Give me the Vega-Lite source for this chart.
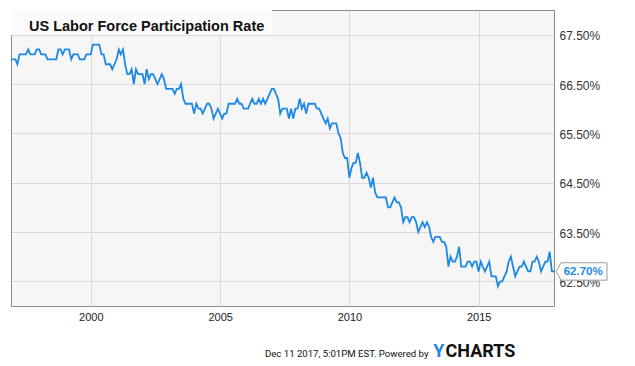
{
  "$schema": "https://vega.github.io/schema/vega-lite/v6.json",
  "width": 543,
  "height": 296,
  "autosize": {"type": "none"},
  "padding": {"left": 11, "top": 10, "right": 81, "bottom": 60},
  "background": "white",
  "title": {
    "text": "US Labor Force Participation Rate",
    "anchor": "start",
    "frame": "group",
    "orient": "top",
    "offset": -35,
    "dx": 18,
    "baseline": "alphabetic",
    "font": "Liberation Sans",
    "fontSize": 14.5,
    "fontWeight": "bold",
    "color": "#111111"
  },
  "data": {
    "values": [
      {"d": "1996-11-30", "v": 0.670}, {"d": "1996-12-31", "v": 0.670},
      {"d": "1997-01-31", "v": 0.670}, {"d": "1997-02-28", "v": 0.669}, {"d": "1997-03-31", "v": 0.671}, {"d": "1997-04-30", "v": 0.671}, {"d": "1997-05-31", "v": 0.671}, {"d": "1997-06-30", "v": 0.671}, {"d": "1997-07-31", "v": 0.672}, {"d": "1997-08-31", "v": 0.671}, {"d": "1997-09-30", "v": 0.671}, {"d": "1997-10-31", "v": 0.671}, {"d": "1997-11-30", "v": 0.672}, {"d": "1997-12-31", "v": 0.672},
      {"d": "1998-01-31", "v": 0.671}, {"d": "1998-02-28", "v": 0.671}, {"d": "1998-03-31", "v": 0.671}, {"d": "1998-04-30", "v": 0.670}, {"d": "1998-05-31", "v": 0.670}, {"d": "1998-06-30", "v": 0.670}, {"d": "1998-07-31", "v": 0.670}, {"d": "1998-08-31", "v": 0.670}, {"d": "1998-09-30", "v": 0.672}, {"d": "1998-10-31", "v": 0.672}, {"d": "1998-11-30", "v": 0.671}, {"d": "1998-12-31", "v": 0.672},
      {"d": "1999-01-31", "v": 0.672}, {"d": "1999-02-28", "v": 0.672}, {"d": "1999-03-31", "v": 0.670}, {"d": "1999-04-30", "v": 0.671}, {"d": "1999-05-31", "v": 0.671}, {"d": "1999-06-30", "v": 0.671}, {"d": "1999-07-31", "v": 0.670}, {"d": "1999-08-31", "v": 0.670}, {"d": "1999-09-30", "v": 0.670}, {"d": "1999-10-31", "v": 0.671}, {"d": "1999-11-30", "v": 0.671}, {"d": "1999-12-31", "v": 0.671},
      {"d": "2000-01-31", "v": 0.673}, {"d": "2000-02-29", "v": 0.673}, {"d": "2000-03-31", "v": 0.673}, {"d": "2000-04-30", "v": 0.673}, {"d": "2000-05-31", "v": 0.671}, {"d": "2000-06-30", "v": 0.671}, {"d": "2000-07-31", "v": 0.669}, {"d": "2000-08-31", "v": 0.669}, {"d": "2000-09-30", "v": 0.669}, {"d": "2000-10-31", "v": 0.668}, {"d": "2000-11-30", "v": 0.669}, {"d": "2000-12-31", "v": 0.670},
      {"d": "2001-01-31", "v": 0.672}, {"d": "2001-02-28", "v": 0.671}, {"d": "2001-03-31", "v": 0.672}, {"d": "2001-04-30", "v": 0.669}, {"d": "2001-05-31", "v": 0.667}, {"d": "2001-06-30", "v": 0.667}, {"d": "2001-07-31", "v": 0.668}, {"d": "2001-08-31", "v": 0.665}, {"d": "2001-09-30", "v": 0.668}, {"d": "2001-10-31", "v": 0.667}, {"d": "2001-11-30", "v": 0.667}, {"d": "2001-12-31", "v": 0.667},
      {"d": "2002-01-31", "v": 0.665}, {"d": "2002-02-28", "v": 0.668}, {"d": "2002-03-31", "v": 0.666}, {"d": "2002-04-30", "v": 0.667}, {"d": "2002-05-31", "v": 0.667}, {"d": "2002-06-30", "v": 0.666}, {"d": "2002-07-31", "v": 0.665}, {"d": "2002-08-31", "v": 0.666}, {"d": "2002-09-30", "v": 0.667}, {"d": "2002-10-31", "v": 0.666}, {"d": "2002-11-30", "v": 0.664}, {"d": "2002-12-31", "v": 0.664},
      {"d": "2003-01-31", "v": 0.664}, {"d": "2003-02-28", "v": 0.664}, {"d": "2003-03-31", "v": 0.663}, {"d": "2003-04-30", "v": 0.664}, {"d": "2003-05-31", "v": 0.664}, {"d": "2003-06-30", "v": 0.665}, {"d": "2003-07-31", "v": 0.662}, {"d": "2003-08-31", "v": 0.661}, {"d": "2003-09-30", "v": 0.661}, {"d": "2003-10-31", "v": 0.661}, {"d": "2003-11-30", "v": 0.661}, {"d": "2003-12-31", "v": 0.659},
      {"d": "2004-01-31", "v": 0.661}, {"d": "2004-02-29", "v": 0.660}, {"d": "2004-03-31", "v": 0.660}, {"d": "2004-04-30", "v": 0.659}, {"d": "2004-05-31", "v": 0.660}, {"d": "2004-06-30", "v": 0.661}, {"d": "2004-07-31", "v": 0.661}, {"d": "2004-08-31", "v": 0.660}, {"d": "2004-09-30", "v": 0.658}, {"d": "2004-10-31", "v": 0.659}, {"d": "2004-11-30", "v": 0.660}, {"d": "2004-12-31", "v": 0.659},
      {"d": "2005-01-31", "v": 0.658}, {"d": "2005-02-28", "v": 0.659}, {"d": "2005-03-31", "v": 0.659}, {"d": "2005-04-30", "v": 0.661}, {"d": "2005-05-31", "v": 0.661}, {"d": "2005-06-30", "v": 0.661}, {"d": "2005-07-31", "v": 0.661}, {"d": "2005-08-31", "v": 0.662}, {"d": "2005-09-30", "v": 0.661}, {"d": "2005-10-31", "v": 0.661}, {"d": "2005-11-30", "v": 0.660}, {"d": "2005-12-31", "v": 0.660},
      {"d": "2006-01-31", "v": 0.660}, {"d": "2006-02-28", "v": 0.661}, {"d": "2006-03-31", "v": 0.662}, {"d": "2006-04-30", "v": 0.661}, {"d": "2006-05-31", "v": 0.661}, {"d": "2006-06-30", "v": 0.662}, {"d": "2006-07-31", "v": 0.661}, {"d": "2006-08-31", "v": 0.662}, {"d": "2006-09-30", "v": 0.661}, {"d": "2006-10-31", "v": 0.662}, {"d": "2006-11-30", "v": 0.663}, {"d": "2006-12-31", "v": 0.664},
      {"d": "2007-01-31", "v": 0.664}, {"d": "2007-02-28", "v": 0.663}, {"d": "2007-03-31", "v": 0.662}, {"d": "2007-04-30", "v": 0.659}, {"d": "2007-05-31", "v": 0.660}, {"d": "2007-06-30", "v": 0.660}, {"d": "2007-07-31", "v": 0.660}, {"d": "2007-08-31", "v": 0.658}, {"d": "2007-09-30", "v": 0.660}, {"d": "2007-10-31", "v": 0.658}, {"d": "2007-11-30", "v": 0.660}, {"d": "2007-12-31", "v": 0.660},
      {"d": "2008-01-31", "v": 0.662}, {"d": "2008-02-29", "v": 0.660}, {"d": "2008-03-31", "v": 0.661}, {"d": "2008-04-30", "v": 0.659}, {"d": "2008-05-31", "v": 0.661}, {"d": "2008-06-30", "v": 0.661}, {"d": "2008-07-31", "v": 0.661}, {"d": "2008-08-31", "v": 0.661}, {"d": "2008-09-30", "v": 0.660}, {"d": "2008-10-31", "v": 0.660}, {"d": "2008-11-30", "v": 0.659}, {"d": "2008-12-31", "v": 0.658},
      {"d": "2009-01-31", "v": 0.657}, {"d": "2009-02-28", "v": 0.658}, {"d": "2009-03-31", "v": 0.656}, {"d": "2009-04-30", "v": 0.657}, {"d": "2009-05-31", "v": 0.657}, {"d": "2009-06-30", "v": 0.657}, {"d": "2009-07-31", "v": 0.655}, {"d": "2009-08-31", "v": 0.654}, {"d": "2009-09-30", "v": 0.651}, {"d": "2009-10-31", "v": 0.650}, {"d": "2009-11-30", "v": 0.650}, {"d": "2009-12-31", "v": 0.646},
      {"d": "2010-01-31", "v": 0.648}, {"d": "2010-02-28", "v": 0.649}, {"d": "2010-03-31", "v": 0.649}, {"d": "2010-04-30", "v": 0.651}, {"d": "2010-05-31", "v": 0.649}, {"d": "2010-06-30", "v": 0.646}, {"d": "2010-07-31", "v": 0.646}, {"d": "2010-08-31", "v": 0.647}, {"d": "2010-09-30", "v": 0.646}, {"d": "2010-10-31", "v": 0.644}, {"d": "2010-11-30", "v": 0.646}, {"d": "2010-12-31", "v": 0.643},
      {"d": "2011-01-31", "v": 0.642}, {"d": "2011-02-28", "v": 0.642}, {"d": "2011-03-31", "v": 0.642}, {"d": "2011-04-30", "v": 0.642}, {"d": "2011-05-31", "v": 0.642}, {"d": "2011-06-30", "v": 0.640}, {"d": "2011-07-31", "v": 0.640}, {"d": "2011-08-31", "v": 0.641}, {"d": "2011-09-30", "v": 0.642}, {"d": "2011-10-31", "v": 0.641}, {"d": "2011-11-30", "v": 0.641}, {"d": "2011-12-31", "v": 0.640},
      {"d": "2012-01-31", "v": 0.637}, {"d": "2012-02-29", "v": 0.638}, {"d": "2012-03-31", "v": 0.638}, {"d": "2012-04-30", "v": 0.637}, {"d": "2012-05-31", "v": 0.638}, {"d": "2012-06-30", "v": 0.638}, {"d": "2012-07-31", "v": 0.637}, {"d": "2012-08-31", "v": 0.635}, {"d": "2012-09-30", "v": 0.636}, {"d": "2012-10-31", "v": 0.637}, {"d": "2012-11-30", "v": 0.636}, {"d": "2012-12-31", "v": 0.637},
      {"d": "2013-01-31", "v": 0.636}, {"d": "2013-02-28", "v": 0.634}, {"d": "2013-03-31", "v": 0.633}, {"d": "2013-04-30", "v": 0.634}, {"d": "2013-05-31", "v": 0.634}, {"d": "2013-06-30", "v": 0.634}, {"d": "2013-07-31", "v": 0.633}, {"d": "2013-08-31", "v": 0.633}, {"d": "2013-09-30", "v": 0.632}, {"d": "2013-10-31", "v": 0.628}, {"d": "2013-11-30", "v": 0.630}, {"d": "2013-12-31", "v": 0.629},
      {"d": "2014-01-31", "v": 0.629}, {"d": "2014-02-28", "v": 0.630}, {"d": "2014-03-31", "v": 0.632}, {"d": "2014-04-30", "v": 0.628}, {"d": "2014-05-31", "v": 0.628}, {"d": "2014-06-30", "v": 0.628}, {"d": "2014-07-31", "v": 0.629}, {"d": "2014-08-31", "v": 0.629}, {"d": "2014-09-30", "v": 0.628}, {"d": "2014-10-31", "v": 0.629}, {"d": "2014-11-30", "v": 0.629}, {"d": "2014-12-31", "v": 0.627},
      {"d": "2015-01-31", "v": 0.629}, {"d": "2015-02-28", "v": 0.628}, {"d": "2015-03-31", "v": 0.627}, {"d": "2015-04-30", "v": 0.628}, {"d": "2015-05-31", "v": 0.629}, {"d": "2015-06-30", "v": 0.626}, {"d": "2015-07-31", "v": 0.626}, {"d": "2015-08-31", "v": 0.626}, {"d": "2015-09-30", "v": 0.624}, {"d": "2015-10-31", "v": 0.625}, {"d": "2015-11-30", "v": 0.625}, {"d": "2015-12-31", "v": 0.626},
      {"d": "2016-01-31", "v": 0.627}, {"d": "2016-02-29", "v": 0.629}, {"d": "2016-03-31", "v": 0.630}, {"d": "2016-04-30", "v": 0.628}, {"d": "2016-05-31", "v": 0.626}, {"d": "2016-06-30", "v": 0.627}, {"d": "2016-07-31", "v": 0.628}, {"d": "2016-08-31", "v": 0.628}, {"d": "2016-09-30", "v": 0.629}, {"d": "2016-10-31", "v": 0.628}, {"d": "2016-11-30", "v": 0.627}, {"d": "2016-12-31", "v": 0.627},
      {"d": "2017-01-31", "v": 0.629}, {"d": "2017-02-28", "v": 0.629}, {"d": "2017-03-31", "v": 0.630}, {"d": "2017-04-30", "v": 0.629}, {"d": "2017-05-31", "v": 0.627}, {"d": "2017-06-30", "v": 0.628}, {"d": "2017-07-31", "v": 0.629}, {"d": "2017-08-31", "v": 0.629}, {"d": "2017-09-30", "v": 0.631}, {"d": "2017-10-31", "v": 0.627}, {"d": "2017-11-30", "v": 0.627}
    ]
  },
  "resolve": {"axis": {"y": "independent"}},
  "layer": [
    {
      "mark": {"type": "line", "color": "#1e88e5", "strokeWidth": 1.8},
      "encoding": {
        "x": {
          "field": "d",
          "type": "temporal",
          "scale": {
            "type": "utc",
            "domain": [
              {"year": 1996, "month": 11, "date": 30, "utc": true},
              {"year": 2017, "month": 11, "date": 30, "utc": true}
            ],
            "nice": false
          },
          "axis": {
            "values": [
              {"year": 2000, "month": 1, "date": 1, "utc": true},
              {"year": 2005, "month": 1, "date": 1, "utc": true},
              {"year": 2010, "month": 1, "date": 1, "utc": true},
              {"year": 2015, "month": 1, "date": 1, "utc": true}
            ],
            "labelExpr": "utcFormat(datum.value, '%Y')",
            "grid": true,
            "gridColor": "#d9d9d9",
            "gridWidth": 1,
            "ticks": false,
            "domain": false,
            "labelPadding": 5,
            "labelFlush": false,
            "labelFont": "Liberation Sans",
            "labelFontSize": 11,
            "labelColor": "#222222",
            "title": "Dec 11 2017, 5:01PM EST.  Powered by",
            "titleX": 417,
            "titleY": 50.5,
            "titleAlign": "right",
            "titleBaseline": "alphabetic",
            "titleFont": "Roboto",
            "titleFontSize": 9.6,
            "titleFontWeight": "normal",
            "titleColor": "#111111"
          }
        },
        "y": {
          "field": "v",
          "type": "quantitative",
          "scale": {"domain": [0.62, 0.68], "nice": false, "zero": false},
          "axis": {
            "orient": "right",
            "values": [0.625, 0.635, 0.645, 0.655, 0.665, 0.675],
            "format": ".2%",
            "grid": true,
            "gridColor": "#d9d9d9",
            "gridWidth": 1,
            "ticks": false,
            "domain": false,
            "labelPadding": 5,
            "labelOffset": 1,
            "labelFont": "Liberation Sans",
            "labelFontSize": 12,
            "labelColor": "#333333",
            "title": "CHARTS",
            "titleAngle": 0,
            "titleX": -109,
            "titleY": 346.7,
            "titleAlign": "left",
            "titleBaseline": "alphabetic",
            "titleFont": "Roboto",
            "titleFontSize": 18,
            "titleFontWeight": "bold",
            "titleColor": "#111111"
          }
        }
      }
    },
    {
      "mark": {"type": "rect", "fill": "#fbfbfb"},
      "encoding": {
        "x": {"datum": {"year": 1996, "month": 11, "date": 30, "utc": true}, "type": "temporal"},
        "x2": {"datum": {"year": 2007, "month": 1, "date": 3, "utc": true}},
        "y": {
          "datum": 0.68,
          "type": "quantitative",
          "axis": {
            "orient": "left",
            "grid": false,
            "labels": false,
            "ticks": false,
            "domain": false,
            "title": "Y",
            "titleAngle": 0,
            "titleX": 433,
            "titleY": 346.7,
            "titleAlign": "right",
            "titleBaseline": "alphabetic",
            "titleFont": "Roboto",
            "titleFontSize": 18,
            "titleFontWeight": "bold",
            "titleColor": "#1e88e5"
          }
        },
        "y2": {"datum": 0.6751}
      }
    },
    {
      "transform": [{"filter": "time(datum.d) >= utc(2017, 10, 30)"}],
      "mark": {
        "type": "point",
        "shape": "M0.04,0L0.132,-0.164L1,-0.164L1,0.164L0.132,0.164Z",
        "size": 11236,
        "filled": true,
        "fill": "white",
        "stroke": "#999999",
        "strokeWidth": 1,
        "opacity": 1
      },
      "encoding": {
        "x": {"field": "d", "type": "temporal"},
        "y": {"field": "v", "type": "quantitative", "axis": null}
      }
    },
    {
      "transform": [{"filter": "time(datum.d) >= utc(2017, 10, 30)"}],
      "mark": {
        "type": "text",
        "align": "left",
        "baseline": "middle",
        "dx": 9.7,
        "dy": 0.5,
        "font": "Liberation Sans",
        "fontSize": 11.5,
        "fontWeight": "bold",
        "color": "#1e88e5"
      },
      "encoding": {
        "x": {"field": "d", "type": "temporal"},
        "y": {"field": "v", "type": "quantitative", "axis": null},
        "text": {"field": "v", "type": "quantitative", "format": ".2%"}
      }
    }
  ],
  "config": {
    "view": {"fill": "#f6f6f6", "stroke": "#8a8a8a", "strokeWidth": 1}
  }
}
